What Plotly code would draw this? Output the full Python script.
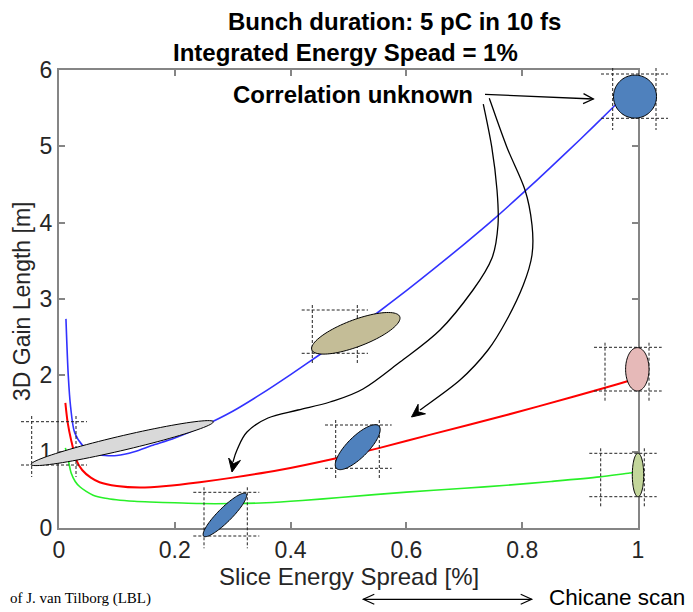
import math
import plotly.graph_objects as go

# ---------------- data ----------------
x_ticks = [0, 0.2, 0.4, 0.6, 0.8, 1]
x_tick_text = ["0", "0.2", "0.4", "0.6", "0.8", "1"]
y_ticks = [0, 1, 2, 3, 4, 5, 6]
y_tick_text = ["0", "1", "2", "3", "4", "5", "6"]

blue_x = [0.012, 0.016, 0.02, 0.027, 0.042, 0.06, 0.08, 0.1, 0.13, 0.16, 0.2, 0.25,
          0.3, 0.35, 0.4, 0.45, 0.5, 0.55, 0.6, 0.65, 0.7, 0.75, 0.8, 0.85, 0.9, 0.95, 1.0]
blue_y = [2.74, 2.0, 1.59, 1.25, 1.07, 0.98, 0.95, 0.95, 1.0, 1.08, 1.18, 1.34,
          1.53, 1.76, 2.01, 2.27, 2.54, 2.82, 3.11, 3.41, 3.72, 4.04, 4.38, 4.73, 5.09, 5.46, 5.84]

red_x = [0.011, 0.015, 0.021, 0.03, 0.04, 0.055, 0.07, 0.1, 0.14, 0.185, 0.243, 0.3,
         0.381, 0.479, 0.554, 0.64, 0.773, 0.888, 0.98, 1.0]
red_y = [1.64, 1.38, 1.15, 0.89, 0.76, 0.66, 0.60, 0.55, 0.53, 0.55, 0.60, 0.66,
         0.76, 0.915, 1.05, 1.22, 1.48, 1.72, 1.92, 1.97]

green_x = [0.011, 0.016, 0.021, 0.028, 0.036, 0.047, 0.059, 0.08, 0.099, 0.13, 0.157, 0.2,
           0.243, 0.3, 0.358, 0.42, 0.485, 0.6, 0.7, 0.773, 0.85, 0.934, 0.986, 1.0]
green_y = [1.05, 0.89, 0.72, 0.61, 0.54, 0.48, 0.43, 0.39, 0.37, 0.35, 0.34, 0.33,
           0.32, 0.32, 0.33, 0.36, 0.40, 0.47, 0.52, 0.56, 0.61, 0.67, 0.72, 0.73]

# ---------------- geometry helpers ----------------
W, H = 693, 612
OFF = 8  # page body margin
ML, MT = 59 - OFF, 70 - OFF
PW, PH = 579, 458
MR = W - ML - PW
MB = H - MT - PH
BOT = MT + PH


def P(px, py):
    """window pixel -> paper coordinates"""
    return ((px - OFF - ML) / PW, (BOT - (py - OFF)) / PH)


def ppath(points):
    s = ""
    for i, (px, py) in enumerate(points):
        x, y = P(px, py)
        s += ("M" if i == 0 else "L") + f"{x:.5f},{y:.5f} "
    return s + "Z"


def ellipse_pts(cx, cy, a, b, ang, n=90):
    th = math.radians(ang)
    pts = []
    for k in range(n):
        t = 2 * math.pi * k / n
        ex, ey = a * math.cos(t), b * math.sin(t)
        pts.append((cx + ex * math.cos(th) - ey * math.sin(th),
                    cy - (ex * math.sin(th) + ey * math.cos(th))))
    return pts


def catmull(points):
    pts = [points[0]] + points + [points[-1]]
    x0, y0 = P(*points[0])
    s = f"M{x0:.5f},{y0:.5f}"
    for i in range(1, len(pts) - 2):
        p0, p1, p2, p3 = pts[i - 1], pts[i], pts[i + 1], pts[i + 2]
        c1 = (p1[0] + (p2[0] - p0[0]) / 6, p1[1] + (p2[1] - p0[1]) / 6)
        c2 = (p2[0] - (p3[0] - p1[0]) / 6, p2[1] - (p3[1] - p1[1]) / 6)
        a, b, c = P(*c1), P(*c2), P(*p2)
        s += f" C{a[0]:.5f},{a[1]:.5f} {b[0]:.5f},{b[1]:.5f} {c[0]:.5f},{c[1]:.5f}"
    return s


def head_filled(tip, frm, L=13, Wd=6):
    dx, dy = tip[0] - frm[0], tip[1] - frm[1]
    d = math.hypot(dx, dy)
    ux, uy = dx / d, dy / d
    nx, ny = -uy, ux
    left = (tip[0] - L * ux + Wd * nx, tip[1] - L * uy + Wd * ny)
    right = (tip[0] - L * ux - Wd * nx, tip[1] - L * uy - Wd * ny)
    notch = (tip[0] - 0.65 * L * ux, tip[1] - 0.65 * L * uy)
    return ppath([tip, left, notch, right])


def head_open(tip, frm, L=10, Wd=5):
    dx, dy = tip[0] - frm[0], tip[1] - frm[1]
    d = math.hypot(dx, dy)
    ux, uy = dx / d, dy / d
    nx, ny = -uy, ux
    left = (tip[0] - L * ux + Wd * nx, tip[1] - L * uy + Wd * ny)
    right = (tip[0] - L * ux - Wd * nx, tip[1] - L * uy - Wd * ny)
    a, b, c = P(*left), P(*tip), P(*right)
    return f"M{a[0]:.5f},{a[1]:.5f} L{b[0]:.5f},{b[1]:.5f} L{c[0]:.5f},{c[1]:.5f}"


# ---------------- figure ----------------
FONT = "Liberation Sans, Arial, sans-serif"
AX = "#858585"
TXT = "#262626"

fig = go.Figure()
fig.add_trace(go.Scatter(x=blue_x, y=blue_y, mode="lines",
                         line=dict(color="rgb(50,50,255)", width=1.6, shape="spline", smoothing=0.8)))
fig.add_trace(go.Scatter(x=red_x, y=red_y, mode="lines",
                         line=dict(color="rgb(255,0,0)", width=2, shape="spline", smoothing=0.8)))
fig.add_trace(go.Scatter(x=green_x, y=green_y, mode="lines",
                         line=dict(color="rgb(40,240,40)", width=1.6, shape="spline", smoothing=0.8)))

shapes = []

# dashed bounding crosshairs: (h lines y, h x-range, v lines x, v y-range) in window pixels
crosshairs = [
    ((74, 118.3), (601, 668), (612.7, 656), (68, 130)),
    ((421.7, 465), (21, 87), (31.7, 76), (416, 477)),
    ((310, 353.3), (301.7, 368), (312.3, 357.3), (305, 365)),
    ((425, 468.3), (325, 391.7), (335.7, 379.3), (420, 480)),
    ((492.3, 536), (193.3, 259.3), (204, 247.3), (487.3, 548.3)),
    ((347.3, 391), (594, 661.7), (605, 649), (342.7, 402.7)),
    ((453.3, 496.7), (589.3, 656.7), (600.7, 644.3), (448.3, 508.3)),
]
dash_line = dict(color="#222222", width=1, dash="3px,2px")
for hy, hx, vx, vy in crosshairs:
    for yy in hy:
        (x0, y0), (x1, y1) = P(hx[0], yy), P(hx[1], yy)
        shapes.append(dict(type="line", xref="paper", yref="paper", x0=x0, y0=y0, x1=x1, y1=y1,
                           line=dash_line, layer="above"))
    for xx in vx:
        (x0, y0), (x1, y1) = P(xx, vy[0]), P(xx, vy[1])
        shapes.append(dict(type="line", xref="paper", yref="paper", x0=x0, y0=y0, x1=x1, y1=y1,
                           line=dash_line, layer="above"))

# ellipses (center px, semi-axes, angle, fill)
ellipses = [
    (635, 96.6, 21.5, 21.5, 0, "#4f81bd"),
    (122.2, 443.1, 93.6, 7.2, 13.2, "#d9d9d9"),
    (355.8, 333.3, 47, 13.4, 20.7, "#c4bd97"),
    (357.7, 447.2, 30, 10.5, 45, "#4f81bd"),
    (224.9, 514.9, 30, 7, 45, "#4f81bd"),
    (637.3, 369.3, 11.7, 21.7, 0, "#e6b9b8"),
    (638, 475, 5.7, 21.7, 0, "#c3d69b"),
]
for cx, cy, a, b, ang, col in ellipses:
    shapes.append(dict(type="path", xref="paper", yref="paper",
                       path=ppath(ellipse_pts(cx, cy, a, b, ang)),
                       fillcolor=col, line=dict(color="black", width=1), layer="above"))

# arrows
arrow_line = dict(color="black", width=1.3)
curveA = [(483.3, 104), (491.7, 146.7), (497, 190), (498, 225), (492, 258), (473, 290),
          (440, 330), (400, 362), (363, 389), (330, 402), (298, 410), (268, 418),
          (247, 432), (237, 450), (233, 462)]
tipA = (232, 472)
curveB = [(489.3, 98.3), (506.7, 146.7), (525, 190), (532, 225), (532, 255), (523.3, 285),
          (506.7, 320), (488, 350), (460, 380), (420, 410)]
tipB = (411.5, 417)
shapes.append(dict(type="path", xref="paper", yref="paper", path=catmull(curveA),
                   line=arrow_line, layer="above"))
shapes.append(dict(type="path", xref="paper", yref="paper", path=head_filled(tipA, (236, 452)),
                   fillcolor="black", line=dict(color="black", width=1), layer="above"))
shapes.append(dict(type="path", xref="paper", yref="paper", path=catmull(curveB),
                   line=arrow_line, layer="above"))
shapes.append(dict(type="path", xref="paper", yref="paper", path=head_filled(tipB, (440, 395)),
                   fillcolor="black", line=dict(color="black", width=1), layer="above"))

# straight arrow to circle
s0, s1 = (485, 94.3), (593.3, 99)
(x0, y0), (x1, y1) = P(*s0), P(*s1)
shapes.append(dict(type="line", xref="paper", yref="paper", x0=x0, y0=y0, x1=x1, y1=y1,
                   line=arrow_line, layer="above"))
shapes.append(dict(type="path", xref="paper", yref="paper", path=head_open(s1, s0),
                   line=arrow_line, layer="above"))

# double arrow at bottom
d0, d1 = (363.3, 599.3), (531.7, 599.3)
(x0, y0), (x1, y1) = P(*d0), P(*d1)
shapes.append(dict(type="line", xref="paper", yref="paper", x0=x0, y0=y0, x1=x1, y1=y1,
                   line=dict(color="black", width=1.2), layer="above"))
shapes.append(dict(type="path", xref="paper", yref="paper", path=head_open(d1, d0, 11, 5),
                   line=dict(color="black", width=1.2), layer="above"))
shapes.append(dict(type="path", xref="paper", yref="paper", path=head_open(d0, d1, 11, 5),
                   line=dict(color="black", width=1.2), layer="above"))

# annotations
annots = []


def note(text, px, py, size, xanchor="center", color="black", family=FONT, angle=0):
    x, y = P(px, py)
    annots.append(dict(text=text, x=x, y=y, xref="paper", yref="paper", showarrow=False,
                       xanchor=xanchor, yanchor="middle", textangle=angle,
                       font=dict(family=family, size=size, color=color)))


note("<b>Bunch duration: 5 pC in 10 fs</b>", 394.5, 22, 24)
note("<b>Integrated Energy Spead = 1%</b>", 345, 52, 24)
note("<b>Correlation unknown</b>", 352.5, 95, 24)
note("3D Gain Length [m]", 22, 302, 23, color=TXT, angle=-90)
note("Slice Energy Spread [%]", 348.5, 576, 24, color=TXT)
note("Chicane scan", 547, 597, 22.5, xanchor="left")
note("of J. van Tilborg (LBL)", 8, 598, 15, xanchor="left",
     family="Liberation Serif, Times New Roman, serif")

axis_common = dict(showgrid=False, zeroline=False, showline=True, linecolor=AX, linewidth=2,
                   mirror="ticks", ticks="inside", ticklen=6, tickwidth=1.5, tickcolor=AX,
                   tickfont=dict(family=FONT, size=23, color=TXT))

fig.update_layout(
    width=W, height=H,
    margin=dict(l=ML, r=MR, t=MT, b=MB, autoexpand=False),
    paper_bgcolor="white", plot_bgcolor="white",
    showlegend=False,
    shapes=shapes, annotations=annots,
    xaxis=dict(range=[0, 1], tickvals=x_ticks, ticktext=x_tick_text, **axis_common),
    yaxis=dict(range=[0, 6], tickvals=y_ticks, ticktext=y_tick_text, **axis_common),
)

fig.write_html("out.html")
